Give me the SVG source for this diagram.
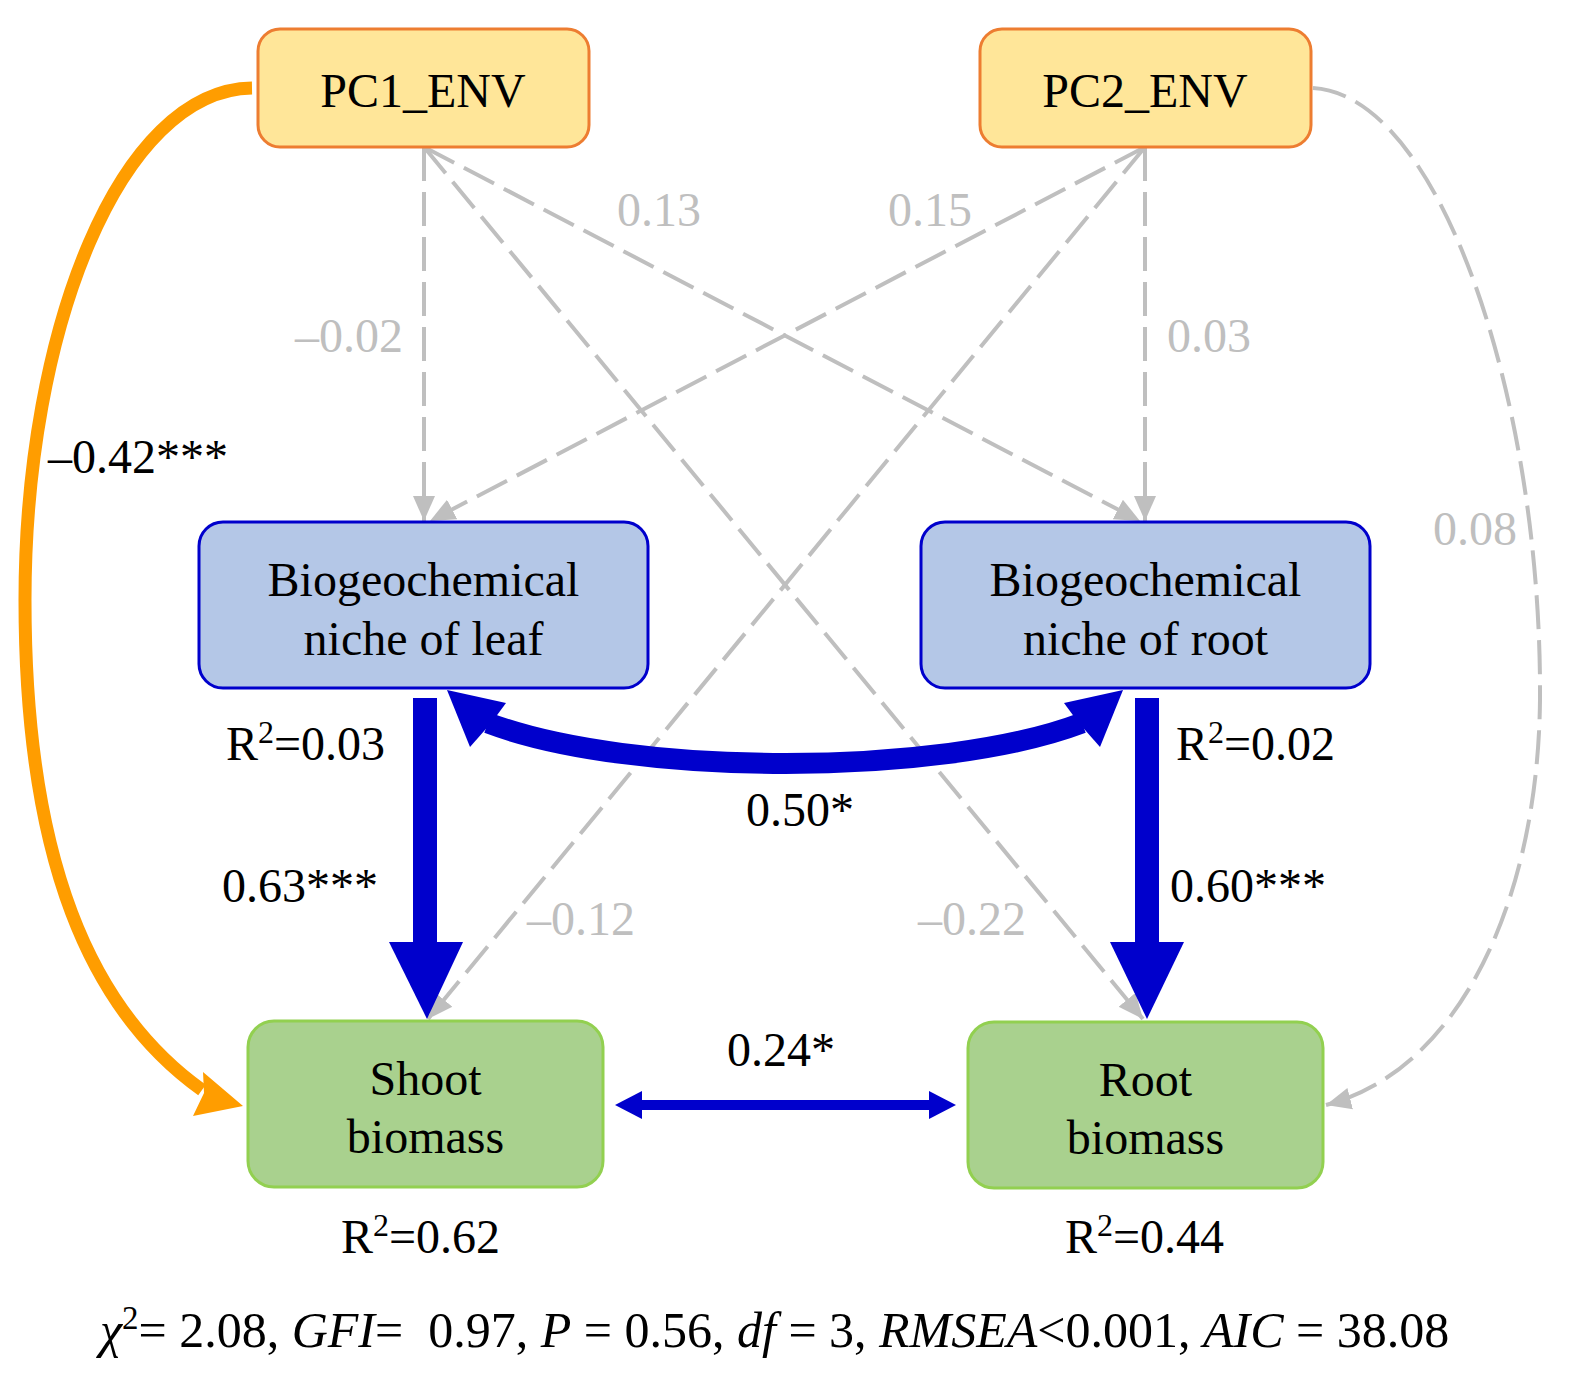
<svg xmlns="http://www.w3.org/2000/svg" width="1570" height="1374" viewBox="0 0 1570 1374">
<style>
text{font-family:"Liberation Serif","Times New Roman",serif;font-size:48px;fill:#000}
.c{text-anchor:middle}
.g{fill:#BFBFBF}
.env{fill:#FFE699;stroke:#ED7D31;stroke-width:3}
.niche{fill:#B4C7E7;stroke:#0000CC;stroke-width:3}
.bio{fill:#A9D18E;stroke:#92D050;stroke-width:3}
.dash{fill:none;stroke:#BFBFBF;stroke-width:4;stroke-dasharray:34 11;marker-end:url(#ga)}
.blue{fill:#0000CC}
.i{font-style:italic}
.sup{font-size:32px}
</style>
<defs>
<marker id="ga" markerUnits="userSpaceOnUse" markerWidth="26" markerHeight="24" viewBox="0 0 26 24" refX="25" refY="12" orient="auto">
<path d="M0,1 L25,12 L0,23 z" fill="#BFBFBF"/>
</marker>
</defs>
<rect width="1570" height="1374" fill="#fff"/>

<g id="connectors">
<path class="dash" d="M424,147 L424,521"/>
<path class="dash" d="M1145,147 L430,521"/>
<path class="dash" d="M424,147 L1140,521"/>
<path class="dash" d="M1145,147 L1145,521"/>
<path class="dash" d="M424,147 L1143,1019"/>
<path class="dash" d="M1145,147 L428,1019"/>
<path class="dash" d="M1313,88 C1440,95 1542,400 1540,700 C1538,900 1460,1070 1326,1105"/>
<path d="M252,88 C120,90 25,330 25,600 C25,860 90,1010 202,1090" fill="none" stroke="#FF9D00" stroke-width="13"/>
<polygon points="243,1106 203,1072 204,1093 193,1116" fill="#FF9D00"/>
<rect class="blue" x="413" y="698" width="24" height="246"/>
<polygon class="blue" points="389,942 463,942 427,1019"/>
<rect class="blue" x="1135" y="698" width="24" height="246"/>
<polygon class="blue" points="1110,942 1184,942 1147,1019"/>
<path d="M488,723 C631,777 940,777 1082,723" fill="none" stroke="#0000CC" stroke-width="21"/>
<polygon class="blue" points="447,690 506,703 492,722 470,747"/>
<polygon class="blue" points="1123,690 1064,703 1078,722 1100,747"/>
<rect class="blue" x="640" y="1100" width="291" height="10"/>
<polygon class="blue" points="615,1105 642,1091 642,1119"/>
<polygon class="blue" points="956,1105 929,1091 929,1119"/>
</g>

<g id="pc1_env">
<rect class="env" x="258" y="29" width="331" height="118" rx="22"/>
<text class="c" x="423" y="107">PC1_ENV</text>
</g>
<g id="pc2_env">
<rect class="env" x="980" y="29" width="331" height="118" rx="22"/>
<text class="c" x="1145" y="107">PC2_ENV</text>
</g>
<g id="niche_leaf">
<rect class="niche" x="199" y="522" width="449" height="166" rx="24"/>
<text class="c" x="423.5" y="596">Biogeochemical</text>
<text class="c" x="423.5" y="655">niche of leaf</text>
</g>
<g id="niche_root">
<rect class="niche" x="921" y="522" width="449" height="166" rx="24"/>
<text class="c" x="1145.5" y="596">Biogeochemical</text>
<text class="c" x="1145.5" y="655">niche of root</text>
</g>
<g id="shoot_biomass">
<rect class="bio" x="248" y="1021" width="355" height="166" rx="26"/>
<text class="c" x="425.5" y="1095">Shoot</text>
<text class="c" x="425.5" y="1153">biomass</text>
</g>
<g id="root_biomass">
<rect class="bio" x="968" y="1022" width="355" height="166" rx="26"/>
<text class="c" x="1145.5" y="1096">Root</text>
<text class="c" x="1145.5" y="1154">biomass</text>
</g>

<g id="labels">
<text x="48" y="473">–0.42***</text>
<text class="g" x="295" y="352">–0.02</text>
<text class="g" x="617" y="226">0.13</text>
<text class="g" x="888" y="226">0.15</text>
<text class="g" x="1167" y="352">0.03</text>
<text class="g" x="1433" y="545">0.08</text>
<text x="226" y="760">R<tspan class="sup" dy="-17">2</tspan><tspan dy="17">=0.03</tspan></text>
<text x="1176" y="760">R<tspan class="sup" dy="-17">2</tspan><tspan dy="17">=0.02</tspan></text>
<text x="746" y="826">0.50*</text>
<text x="222" y="902">0.63***</text>
<text x="1170" y="902">0.60***</text>
<text class="g" x="527" y="935">–0.12</text>
<text class="g" x="918" y="935">–0.22</text>
<text x="727" y="1066">0.24*</text>
<text x="341" y="1253">R<tspan class="sup" dy="-17">2</tspan><tspan dy="17">=0.62</tspan></text>
<text x="1065" y="1253">R<tspan class="sup" dy="-17">2</tspan><tspan dy="17">=0.44</tspan></text>
<text x="100" y="1347" style="font-size:50px" xml:space="preserve"><tspan class="i">χ</tspan><tspan font-size="33" dy="-18">2</tspan><tspan dy="18">= 2.08, </tspan><tspan class="i">GFI</tspan>=  0.97, <tspan class="i">P</tspan> = 0.56, <tspan class="i">df</tspan> = 3, <tspan class="i">RMSEA</tspan>&lt;0.001, <tspan class="i">AIC</tspan> = 38.08</text>
</g>
</svg>
